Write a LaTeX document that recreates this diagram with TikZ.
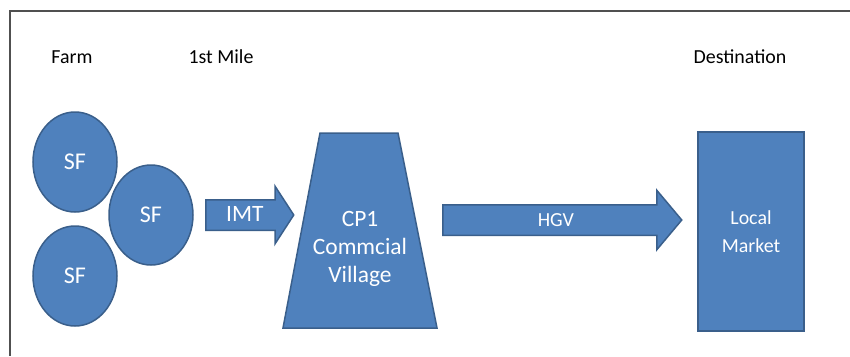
\documentclass[tikz,border=0pt]{standalone}
\usepackage{fontspec}
\setmainfont{Carlito}
\usepackage{tikz}
\usetikzlibrary{positioning, shapes.geometric, shapes.arrows}
\definecolor{boxblue}{HTML}{4F81BD}
\definecolor{boxedge}{HTML}{3A5F8B}
\definecolor{framegray}{HTML}{505050}

\begin{document}
\begin{tikzpicture}[x=0.3mm, y=-0.3mm,
    heading/.style={font=\fontsize{17}{20}\selectfont},
    blockfill/.style={draw=boxedge, fill=boxblue, line width=0.45mm},
    blob/.style={ellipse, blockfill, inner sep=0,
        minimum width=25.2mm, minimum height=30mm, text=white,
        font=\fontsize{20.5}{24}\selectfont},
    blockarrow/.style={single arrow, blockfill, anchor=tail,
        text=white, text height=4mm, text depth=0mm, inner ysep=2.35mm, inner xsep=1mm,
        single arrow head indent=0mm},
    market/.style={rectangle, blockfill,
        minimum width=31.8mm, minimum height=59.7mm, text=white, align=center,
        font=\fontsize{17}{24}\selectfont}]
    \useasboundingbox (0,0) rectangle (850,356);
    % frame
    \draw[framegray, line width=0.6mm] (850,11) -- (10,11) -- (10,356);

    % Headings
    \node[heading] (farm) at (72,57) {Farm};
    \node[heading] (mile) at (221,57) {1st Mile};
    \node[heading] (dest) at (740,57) {Destination};

    % Small farms
    \node[blob] (sf1) at (75,162) {SF};
    \node[blob] (sf2) at (151,215) {SF};
    \node[blob] (sf3) at (75,276) {SF};

    % First mile transport
    \node[blockarrow, minimum height=26.4mm, single arrow head extend=4.05mm,
        single arrow tip angle=114, font=\fontsize{20}{24}\selectfont] (imt) at (205,215) {IMT};

    % Collection point
    \draw[blockfill] (320,133) -- (398,133) -- (437,328) -- (283,328) -- cycle;
    \node[text=white, align=center, font=\fontsize{20}{24}\selectfont]
        (cp1) at (360,249) {CP1\\Commcial\\Village};

    % Main haul
    \node[blockarrow, minimum height=71.7mm, single arrow head extend=4.35mm,
        single arrow tip angle=100, font=\fontsize{17}{20}\selectfont] (hgv) at (442,220) {HGV};

    % Destination
    \node[market] (local) at (751,231.5) {Local\\Market};
\end{tikzpicture}
\end{document}
